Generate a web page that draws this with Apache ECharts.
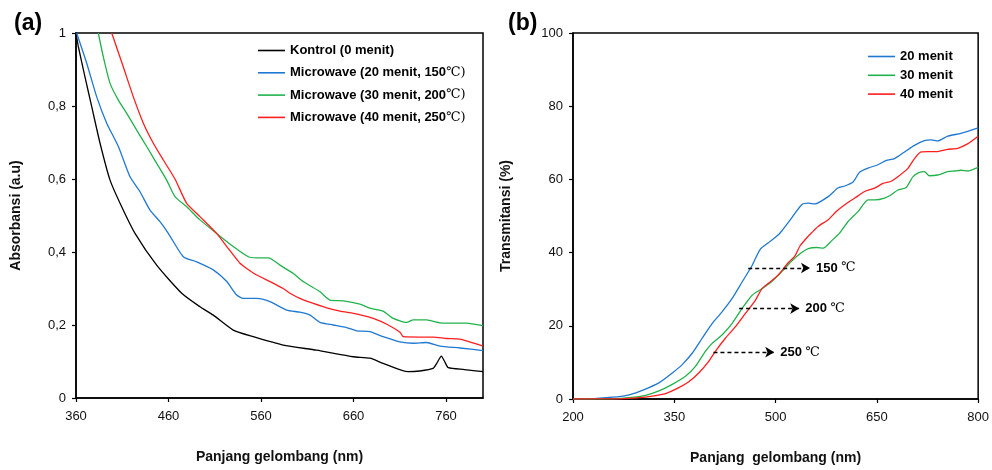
<!DOCTYPE html>
<html>
<head>
<meta charset="utf-8">
<title>Absorbansi dan Transmitansi</title>
<script src="https://cdn.jsdelivr.net/npm/echarts@6/dist/echarts.min.js"></script>
<style>
	html, body { margin: 0; padding: 0; background: #fff; }
	#chart { width: 992px; height: 470px; }
</style>
</head>
<body>
<div id="chart"></div>
<script>
// (a) absorbansi, [panjang gelombang nm, absorbansi]
var kontrol = [[360, 1.0], [362.5, 0.963], [369.7, 0.88], [377, 0.798], [386, 0.698], [396.8, 0.597],
	[409.4, 0.524], [423.8, 0.451], [447.2, 0.364], [474.3, 0.287], [494, 0.25], [508.4, 0.227],
	[530, 0.186], [551.7, 0.168], [584, 0.145], [620, 0.131], [659.8, 0.113], [677.8, 0.109],
	[692, 0.095], [719, 0.072], [731.6, 0.074], [746, 0.081], [750, 0.095], [755, 0.115],
	[758.5, 0.1], [762.5, 0.083], [780, 0.078], [800, 0.072]];
var mw20 = [[360.7, 1.0], [371.6, 0.917], [382.4, 0.825], [393.2, 0.753], [405.8, 0.689], [418.4, 0.606],
	[429.2, 0.565], [440, 0.515], [450.8, 0.483], [459.8, 0.451], [476, 0.387], [490.5, 0.373],
	[508.4, 0.351], [523, 0.319], [533.7, 0.282], [540.9, 0.273], [555.4, 0.273], [569.7, 0.264],
	[587.8, 0.241], [602, 0.235], [613, 0.227], [623.8, 0.207], [638, 0.2], [652.6, 0.193],
	[663.4, 0.184], [677.8, 0.182], [692, 0.168], [710, 0.154], [724.6, 0.15], [739, 0.152],
	[753.5, 0.142], [775, 0.137], [800, 0.13]];
var mw30 = [[384.1, 1.0], [389.5, 0.935], [396.8, 0.862], [405.8, 0.816], [414.8, 0.78], [425.6, 0.734],
	[436.4, 0.689], [447.2, 0.643], [458, 0.597], [467, 0.552], [479.7, 0.524], [494, 0.488],
	[512, 0.451], [530, 0.415], [546.3, 0.387], [555.4, 0.384], [568, 0.384], [580.5, 0.364],
	[595, 0.341], [605.7, 0.319], [623.8, 0.291], [634.6, 0.268], [649, 0.266], [667, 0.257],
	[677.8, 0.246], [692, 0.238], [703, 0.218], [717.5, 0.207], [724.6, 0.214], [739, 0.214],
	[753.5, 0.206], [768, 0.205], [782, 0.205], [800, 0.198]];
var mw40 = [[398.6, 1.0], [411, 0.908], [422, 0.825], [432.8, 0.753], [443.6, 0.698], [454.4, 0.652],
	[467, 0.6], [479.7, 0.533], [494, 0.497], [512, 0.451], [523, 0.415], [530, 0.392],
	[537.3, 0.369], [544.5, 0.355], [555.4, 0.337], [569.7, 0.319], [584, 0.3], [591.4, 0.287],
	[602, 0.273], [616.6, 0.259], [631, 0.247], [645.4, 0.238], [659.8, 0.232], [670.6, 0.226],
	[681.4, 0.218], [696, 0.202], [710.3, 0.18], [713.8, 0.168], [731.6, 0.167], [746, 0.167],
	[760.7, 0.163], [775, 0.161], [800, 0.142]];

// (b) transmitansi, [panjang gelombang nm, %]
var tr20 = [[200, 0], [230, 0.1], [248.6, 0.35], [268.3, 0.63], [283, 1.1], [297.8, 2.0], [312.5, 3.1],
	[327.2, 4.4], [347, 7.1], [361.7, 9.4], [376.5, 12.5], [391.2, 16.6], [406, 20.6], [420.7, 23.8],
	[435.4, 27.4], [450.2, 31.9], [465, 36.4], [477.2, 40.9], [489.4, 42.7], [504.2, 44.9],
	[509.1, 45.9], [523.9, 49.5], [538.6, 53.1], [548.4, 53.5], [558.3, 53.3], [578, 55.3],
	[592.7, 57.7], [602.5, 58.2], [614.8, 59.3], [624.6, 62.0], [636.9, 63.1], [651.6, 64.0],
	[664, 65.2], [676.2, 65.7], [691, 67.5], [705.7, 69.3], [720.4, 70.6], [730.3, 70.8],
	[740, 70.5], [754.8, 71.8], [774.5, 72.6], [800, 74.1]];
var tr30 = [[200, 0], [260, 0.05], [283, 0.35], [307.6, 1.0], [327.2, 2.2], [347, 4.0], [366.6, 6.2],
	[381.3, 8.9], [396, 13.0], [406, 15.2], [420.7, 17.5], [435.4, 20.6], [450.2, 24.7], [465, 28.3],
	[479.7, 30.1], [494.4, 32.1], [509.1, 34.8], [523.9, 37.7], [538.6, 40.0], [548.4, 41.1],
	[560.8, 41.4], [570.5, 41.2], [582.8, 43.2], [595.1, 45.4], [607.4, 48.5], [622.1, 51.2],
	[636.9, 54.4], [646.7, 54.4], [661.5, 54.9], [671.3, 55.8], [681.1, 57.1], [693.5, 57.8],
	[703.2, 60.7], [713, 61.9], [720.4, 62.1], [727.8, 61.0], [740, 61.2], [754.8, 62.1],
	[764.6, 62.3], [774.5, 62.5], [784.3, 62.3], [800, 63.3]];
var tr40 = [[200, 0], [270, 0.05], [297.8, 0.35], [317.5, 0.8], [337.1, 1.5], [356.7, 3.1], [371.5, 4.7],
	[386.2, 7.1], [401, 10.3], [410.8, 13.0], [425.6, 16.6], [440.3, 19.7], [455, 23.3], [469.8, 26.9],
	[479.7, 30.1], [494.4, 32.3], [504.2, 33.9], [519, 37.3], [528.8, 39.1], [536.1, 41.8],
	[548.4, 44.5], [553.4, 45.4], [563.3, 47.2], [578, 49.0], [590.3, 51.3], [602.5, 53.1],
	[617.3, 54.9], [632, 56.7], [646.7, 57.6], [659, 58.9], [671.3, 59.5], [681.1, 60.7],
	[695.9, 63.0], [705.7, 65.7], [715.5, 67.5], [725.3, 67.6], [740, 67.6], [754.8, 68.2],
	[769.6, 68.5], [784.3, 69.7], [800, 71.8]];

// panah suhu: [awal nm, akhir nm, %, label]
var arrows = [[459.5, 551, 35.8, '150'], [446, 535, 24.7, '200'], [408, 498, 12.8, '250']];

var namesA = ['Kontrol (0 menit)', 'Microwave (20 menit, 150℃)', 'Microwave (30 menit, 200℃)', 'Microwave (40 menit, 250℃)'];
var namesB = ['20 menit', '30 menit', '40 menit'];

var hitam = '#000000', biru = '#1f78d2', hijau = '#22b24c', merah = '#ff1e1e';
var font = 'Liberation Sans, Arial, sans-serif';

function lineSeries(name, data, color, idx) {
	return {
		name : name,
		type : 'line',
		xAxisIndex : idx,
		yAxisIndex : idx,
		data : data,
		symbol : 'none',
		smooth : 0.2,
		lineStyle : { color : color, width : 1.3 },
		itemStyle : { color : color },
		animation : false
	};
}

function axisBase() {
	return {
		axisLine : { show : true, onZero : false, lineStyle : { color : '#000', width : 1.5 } },
		axisTick : { show : true, length : 4, inside : false, lineStyle : { color : '#000', width : 1.2 } },
		axisLabel : { color : '#111', fontSize : 13, fontFamily : font },
		splitLine : { show : false },
		nameTextStyle : { color : '#111', fontSize : 14, fontWeight : 'bold', fontFamily : font }
	};
}

function xAxis(idx, min, max, interval) {
	var a = axisBase();
	a.type = 'value';
	a.gridIndex = idx;
	a.min = min;
	a.max = max;
	a.interval = interval;
	a.name = idx == 0 ? 'Panjang gelombang (nm)' : 'Panjang  gelombang (nm)';
	a.nameLocation = 'middle';
	a.nameGap = 52;
	a.axisLabel.margin = 12;
	a.axisLabel.showMaxLabel = idx != 0;
	return a;
}

function yAxis(idx, name, min, max, interval, gap, fmt) {
	var a = axisBase();
	a.type = 'value';
	a.gridIndex = idx;
	a.min = min;
	a.max = max;
	a.interval = interval;
	a.name = name;
	a.nameLocation = 'middle';
	a.nameGap = gap;
	a.axisLabel.margin = 10;
	if (fmt) a.axisLabel.formatter = fmt;
	return a;
}

var arrowLines = [];
for (var i = 0; i < arrows.length; i++) {
	arrowLines.push([ {
		coord : [ arrows[i][0], arrows[i][2] ],
		symbol : 'none'
	}, {
		coord : [ arrows[i][1], arrows[i][2] ],
		symbol : 'arrow',
		label : { formatter : '{b|' + arrows[i][3] + '} {u|℃}' }
	} ]);
}

var seriesB = [ lineSeries(namesB[0], tr20, biru, 1), lineSeries(namesB[1], tr30, hijau, 1), lineSeries(namesB[2], tr40, merah, 1) ];
seriesB[0].markLine = {
	silent : true,
	animation : false,
	symbolSize : [ 8, 9 ],
	lineStyle : { color : '#000', type : [ 4, 3 ], width : 1.3 },
	label : {
		show : true,
		position : 'end',
		distance : 6,
		color : '#000',
		rich : {
			b : { fontSize : 13, fontWeight : 'bold', fontFamily : font, color : '#000' },
			u : { fontSize : 13, fontFamily : 'DejaVu Serif, serif', color : '#000' }
		}
	},
	data : arrowLines
};

var legendText = {
	fontSize : 13,
	fontWeight : 'bold',
	fontFamily : font,
	color : '#000',
	rich : {
		u : { fontSize : 13, fontWeight : 'normal', fontFamily : 'DejaVu Serif, serif', color : '#000' }
	}
};

var myChart = echarts.init(document.getElementById('chart'), null, { renderer : 'canvas' });
var option = {
	backgroundColor : '#fff',
	animation : false,
	title : [ {
		text : '(a)', left : 9, top : 7,
		textStyle : { fontSize : 23, fontWeight : 'bold', fontFamily : font, color : '#000' }
	}, {
		text : '(b)', left : 503, top : 7,
		textStyle : { fontSize : 23, fontWeight : 'bold', fontFamily : font, color : '#000' }
	} ],
	legend : [ {
		data : namesA,
		orient : 'vertical',
		left : 258,
		top : 44,
		padding : 0,
		icon : 'rect',
		itemWidth : 27,
		itemHeight : 1.6,
		itemGap : 9.3,
		formatter : function(n) {
			return n.replace('℃)', '{u|℃)}');
		},
		textStyle : legendText
	}, {
		data : namesB,
		orient : 'vertical',
		left : 868,
		top : 50,
		padding : 0,
		icon : 'rect',
		itemWidth : 27,
		itemHeight : 1.6,
		itemGap : 5.8,
		textStyle : legendText
	} ],
	grid : [ {
		left : 76, top : 33, width : 407, height : 365,
		show : true, borderColor : '#000', borderWidth : 1.5
	}, {
		left : 573, top : 33, width : 407, height : 370,
		show : true, borderColor : '#000', borderWidth : 1.5
	} ],
	xAxis : [ xAxis(0, 360, 800, 100), xAxis(1, 200, 800, 150) ],
	yAxis : [ yAxis(0, 'Absorbansi (a.u)', 0, 1, 0.2, 53, function(v) {
		return String(+v.toFixed(1)).replace('.', ',');
	}), yAxis(1, 'Transmitansi (%)', 0, 100, 20, 60) ],
	series : [ lineSeries(namesA[0], kontrol, hitam, 0), lineSeries(namesA[1], mw20, biru, 0),
			lineSeries(namesA[2], mw30, hijau, 0), lineSeries(namesA[3], mw40, merah, 0) ].concat(seriesB)
};
myChart.setOption(option);
</script>
</body>
</html>
